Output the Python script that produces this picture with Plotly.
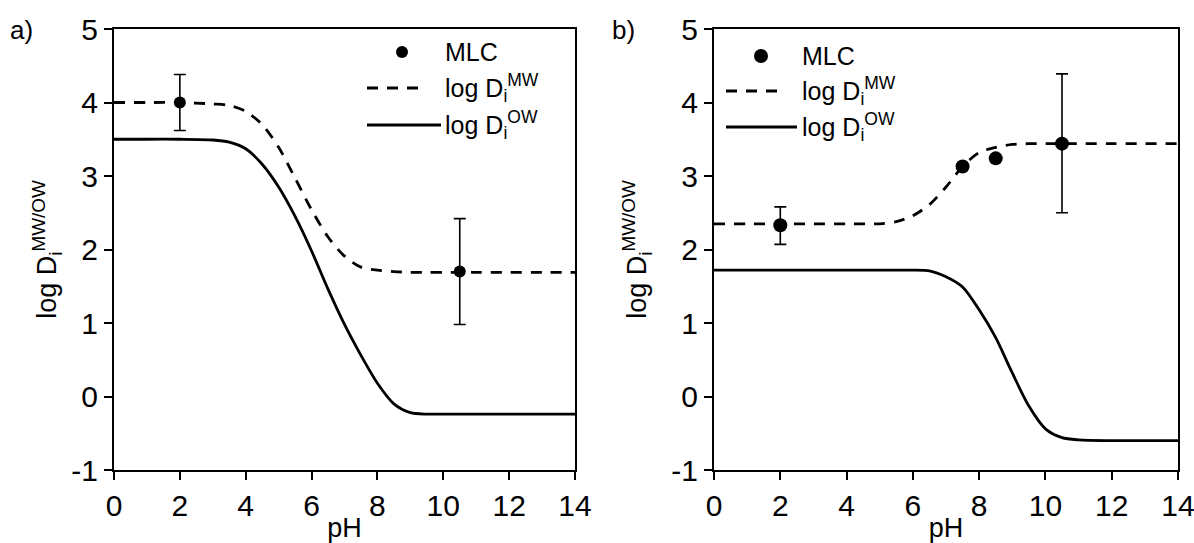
import plotly.graph_objects as go
from plotly.subplots import make_subplots

# ---- panel a) ----
a_mlc_ph = [2.0, 10.5]
a_mlc_logd = [4.0, 1.7]
a_mlc_err = [0.38, 0.72]

a_ph = [0, 1, 2, 3, 3.5, 4, 4.5, 5, 5.5, 6, 6.5, 7, 7.5, 8, 8.5, 9, 9.5, 10, 11, 12, 13, 14]
a_logd_mw = [4.0, 4.0, 4.0, 3.98, 3.96, 3.88, 3.70, 3.39, 2.97, 2.54, 2.17, 1.91, 1.76, 1.72,
             1.70, 1.69, 1.69, 1.69, 1.69, 1.69, 1.69, 1.69]
a_logd_ow = [3.50, 3.50, 3.50, 3.49, 3.46, 3.37, 3.16, 2.85, 2.45, 1.98, 1.46, 0.98, 0.56, 0.18,
             -0.10, -0.22, -0.24, -0.24, -0.24, -0.24, -0.24, -0.24]

# ---- panel b) ----
b_mlc_ph = [2.0, 7.5, 8.5, 10.5]
b_mlc_logd = [2.33, 3.13, 3.24, 3.44]
b_mlc_err_plus = [0.25, 0, 0, 0.95]
b_mlc_err_minus = [0.26, 0, 0, 0.94]

b_ph = [0, 1, 2, 3, 4, 5, 5.5, 6, 6.5, 7, 7.5, 8, 8.5, 9, 9.5, 10, 10.5, 11, 12, 13, 14]
b_logd_mw = [2.35, 2.35, 2.35, 2.35, 2.35, 2.35, 2.38, 2.46, 2.61, 2.85, 3.13, 3.32, 3.39,
             3.43, 3.44, 3.44, 3.44, 3.44, 3.44, 3.44, 3.44]
b_logd_ow = [1.72, 1.72, 1.72, 1.72, 1.72, 1.72, 1.72, 1.72, 1.71, 1.63, 1.49, 1.18, 0.80,
             0.32, -0.13, -0.44, -0.56, -0.59, -0.60, -0.60, -0.60]

x_ticks = [0, 2, 4, 6, 8, 10, 12, 14]
y_ticks = [-1, 0, 1, 2, 3, 4, 5]
y_tick_text = ["-1", "0", "1", "2", "3", "4", "5"]

legend_labels = ["MLC", "log D<sub>i</sub><sup>MW</sup>", "log D<sub>i</sub><sup>OW</sup>"]

FONT = "Liberation Sans, Arial, sans-serif"
BLACK = "#000000"
DASH = "11px,9px"
W, H = 1194, 543

fig = make_subplots(rows=1, cols=2)


def add_panel(col, ph, mw, ow, mlc_x, mlc_y, err_p, err_m, msize):
    fig.add_trace(go.Scatter(
        x=mlc_x, y=mlc_y, mode="markers", name=legend_labels[0],
        marker=dict(color=BLACK, size=msize, opacity=1),
        error_y=dict(type="data", symmetric=False, array=err_p, arrayminus=err_m,
                     color=BLACK, thickness=1.6, width=6),
    ), row=1, col=col)
    fig.add_trace(go.Scatter(
        x=ph, y=mw, mode="lines", name=legend_labels[1],
        line=dict(color=BLACK, width=2.8, dash=DASH, shape="spline", smoothing=0.8),
    ), row=1, col=col)
    fig.add_trace(go.Scatter(
        x=ph, y=ow, mode="lines", name=legend_labels[2],
        line=dict(color=BLACK, width=2.8, shape="spline", smoothing=0.8),
    ), row=1, col=col)


add_panel(1, a_ph, a_logd_mw, a_logd_ow, a_mlc_ph, a_mlc_logd, a_mlc_err, a_mlc_err, 12)
add_panel(2, b_ph, b_logd_mw, b_logd_ow, b_mlc_ph, b_mlc_logd, b_mlc_err_plus, b_mlc_err_minus, 14)

y_dom = [1 - 470 / H, 1 - 29 / H]

axis_common = dict(
    showgrid=False, zeroline=False, showline=True, linecolor=BLACK, linewidth=2,
    mirror=True, ticks="outside", ticklen=8, tickwidth=1.6, tickcolor=BLACK,
    tickfont=dict(family=FONT, size=30, color=BLACK), automargin=False,
    ticklabeloverflow="allow",
)

fig.update_xaxes(range=[0, 14], tickvals=x_ticks,
                 title=dict(text="pH", font=dict(family=FONT, size=27, color=BLACK), standoff=0),
                 **axis_common)
fig.update_yaxes(range=[-1, 5], tickvals=y_ticks, ticktext=y_tick_text,
                 title=dict(text="log D<sub>i</sub><sup>MW/OW</sup>",
                            font=dict(family=FONT, size=27, color=BLACK)),
                 **axis_common)

fig.update_layout(
    xaxis=dict(domain=[114 / W, 575 / W]),
    xaxis2=dict(domain=[714 / W, 1178 / W]),
    yaxis=dict(domain=y_dom, title_standoff=7),
    yaxis2=dict(domain=y_dom, title_standoff=17),
)


# legend keys, placed in pixel units of the page
def px(x):
    return x / W


def py(y):
    return 1 - y / H


def add_key(marker_xy, marker_r, line_x0, dash_x1, solid_x1, rows_y, text_x):
    mx, my = marker_xy
    fig.add_shape(type="circle", xref="paper", yref="paper",
                  x0=px(mx - marker_r), x1=px(mx + marker_r),
                  y0=py(my + marker_r), y1=py(my - marker_r),
                  fillcolor=BLACK, line=dict(color=BLACK, width=0))
    fig.add_shape(type="line", xref="paper", yref="paper",
                  x0=px(line_x0), x1=px(dash_x1), y0=py(rows_y[1]), y1=py(rows_y[1]),
                  line=dict(color=BLACK, width=2.8, dash=DASH))
    fig.add_shape(type="line", xref="paper", yref="paper",
                  x0=px(line_x0), x1=px(solid_x1), y0=py(rows_y[2]), y1=py(rows_y[2]),
                  line=dict(color=BLACK, width=2.8))
    for label, ry in zip(legend_labels, rows_y):
        fig.add_annotation(text=label, x=px(text_x), y=py(ry), xref="paper", yref="paper",
                           xanchor="left", yanchor="middle", showarrow=False,
                           font=dict(family=FONT, size=25, color=BLACK))


add_key((402, 52), 6, 367, 425, 441, [52, 88, 125], 443)
add_key((761, 56), 7, 726, 783, 797, [56, 91, 127], 800)

# panel letters
for label, xp in [("a)", 8), ("b)", 610)]:
    fig.add_annotation(text=label, x=px(xp), y=py(30), xref="paper", yref="paper",
                       xanchor="left", yanchor="middle", showarrow=False,
                       font=dict(family=FONT, size=26, color=BLACK))

fig.update_layout(
    width=W, height=H,
    margin=dict(l=0, r=0, t=0, b=0),
    paper_bgcolor="white", plot_bgcolor="white",
    showlegend=False,
)

fig.write_html("out.html")
